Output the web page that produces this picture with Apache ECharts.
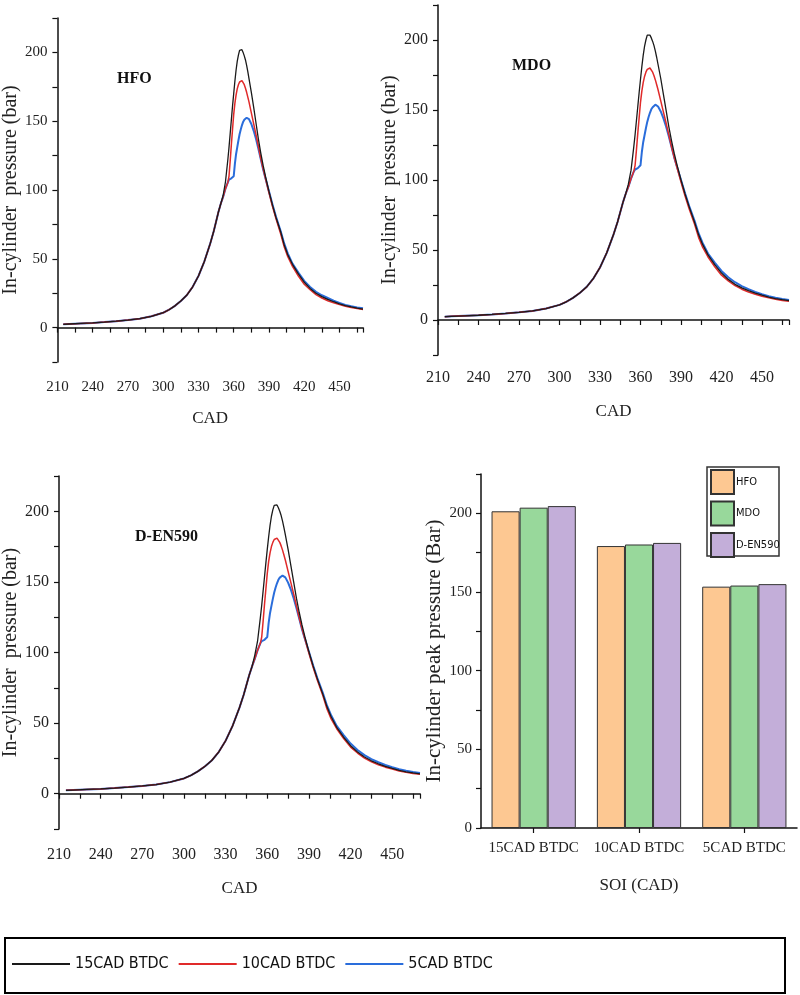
<!DOCTYPE html>
<html>
<head>
<meta charset="utf-8">
<script src="https://cdn.jsdelivr.net/npm/echarts@6/dist/echarts.min.js"></script>
<style>html,body{margin:0;padding:0;background:#fff}#c{width:800px;height:995px}</style>
</head>
<body>
<div id="c"></div>
<script>
// ---- Data ----
// Shared compression stroke (before injection effects), CAD / pressure (bar)
var cadRise = [215,220,230,240,250,260,270,280,290,300,305,310,315,320,325,330,335,340,343,345,347,349];
var pRise   = [2.4,2.6,3.0,3.4,4.0,4.7,5.5,6.5,8.2,10.8,13,15.8,19.3,23.5,29.5,37.5,48,61,70,77,84,90];
// Combustion & expansion CAD grid
var cadHot = [351,353,355,356,357,358,359,360,361,362,363,364,365,366,367,368,369,370,371,372,373,375,377,379,381,383,385,387,390,393,396,400,403,406,410,415,420,425,430,435,440,445,450,455,460,465,470];

// HFO
var hfo15 = [96,106,122,131,141,151,161,170,179,187,193.5,198,201.5,202.5,202,200,197.5,194.5,190.5,186,181,171,160,148.5,137,127,118,110,99,89,80,69.5,60,53,46,39,33,28.5,25,22.5,20.5,18.8,17.3,16,15,14.2,13.5];
var hfo10 = [95,101,105.5,110,121,133,144,155,163,169,173.5,176.5,178.5,179.5,179.5,178.5,176.5,174,171,167.5,164,156,148,140,131.5,123,115.5,108.5,98,88,79,68,58.5,51.5,44.5,37.5,31.5,27.5,24,21.5,19.5,18,16.7,15.5,14.6,13.8,13.2];
var hfo5  = [95,101,105.5,107.5,108,108.5,109,110,119,126,131,136,140.5,144,147,149.5,151,152,152.5,152.5,151.5,148,143,137,130,122.5,115,108.5,99,89.5,80.5,70,61,54,46.5,40,34,29.5,26,23.5,21.5,19.5,18,16.5,15.5,14.6,14];
// MDO
var mdo15 = [97,107,123.5,132.5,142.5,152.5,162.5,172,181,189,195.5,200,203.5,204,203.5,201.5,199,196,192,187.5,182.5,172.5,161,149.5,138,128,119,111,100,90,81,70,61,54,46.5,39.5,33.5,29,25.5,23,21,19.2,17.7,16.3,15.3,14.5,13.8];
var mdo10 = [95,101,106,110.5,121.5,133.5,144.5,155.5,163.5,169.5,174,177,179,180,180,179,177,174.5,171.5,168,164.5,156.5,148.5,140.5,132,123.5,116,109,98.5,88.5,79.5,68.5,59,52,45,38,32,28,24.5,22,20,18.4,17,15.8,14.8,14,13.4];
var mdo5  = [95,101,106,107.5,108,108.5,109,110.5,120,127,132,137,141.5,145,148,150.5,152,153.2,153.8,153.5,152.5,149,144,138,131,123.5,116,109.5,100,90.5,81.5,71,62,55,47.5,41,35,30.5,27,24.2,22,20,18.4,17,15.9,15,14.3];
// D-EN590
var den15 = [98,108,124.5,133.5,143.5,153.5,163.5,173,182,190,196.5,201,204.2,205,204.5,202.5,200,197,193,188.5,183.5,173,161.5,150,138.5,128.5,119.5,111.5,100.5,90.5,81.5,70.5,61.5,54.5,47,40,34,29.5,26,23.3,21.2,19.4,17.9,16.5,15.5,14.7,14];
var den10 = [95.5,101.5,106.5,111,122,134,145,156,164.5,170.5,175,178,180,181,181,180,178,175.5,172.5,169,165.5,157.5,149.5,141.5,133,124.5,117,110,99.5,89.5,80.5,69.5,60,53,46,39,33,28.8,25.2,22.6,20.5,18.8,17.4,16.1,15.1,14.3,13.7];
var den5  = [95.5,101.5,106.5,108,108.5,109,109.5,111,121,128,133,138,142.5,146,149,151.5,153,154,154.5,154.2,153.2,149.5,144.5,138.5,131.5,124,116.5,110,100.5,91,82,71.5,62.5,55.5,48,41.5,35.5,31,27.3,24.5,22.3,20.3,18.7,17.3,16.2,15.3,14.6];

// Peak pressure bar chart
var soiCats = ['15CAD BTDC','10CAD BTDC','5CAD BTDC'];
var peakHFO = [201.3,179.2,153.4];
var peakMDO = [203.6,180.2,154.1];
var peakDEN = [204.6,181.2,155.0];

var seriesNames = ['15CAD BTDC','10CAD BTDC','5CAD BTDC'];
var fuelNames = ['HFO','MDO','D-EN590'];
var yTicksShown = [0,50,100,150,200];
var xTicksShown = [210,240,270,300,330,360,390,420,450];

// ---- Build ----
function curve(hot){
  var d = cadRise.map(function(c,i){return [c,pRise[i]];});
  return d.concat(cadHot.map(function(c,i){return [c,hot[i]];}));
}
var serif = 'Liberation Serif, Times New Roman, serif';
var narrow = 'DejaVu Sans Condensed, Liberation Sans Narrow, Arial Narrow, sans-serif';
var lineColors = ['#1a1a1a','#e02a2a','#2a6ddb'];
var lineWidths = [1.3,1.5,2];

var grids = [
  {left:51, top:18, width:312, height:344},
  {left:438, top:5, width:351, height:350},
  {left:58, top:476, width:362, height:353},
  {left:481, top:474, width:316, height:354}
];
var yNameGap = [30,37,38,36];
var xNameGap = [48,48,51,49];
var xLblMargin = [18,15,18];
var lblSize = [15,16,16,15];

function axisCommon(){
  return {
    axisLine:{show:true,lineStyle:{color:'#111',width:1.5}},
    axisTick:{show:true,length:5,lineStyle:{color:'#111',width:1.2}},
    splitLine:{show:false}
  };
}
var xAxes = [], yAxes = [];
for (var g=0; g<3; g++){
  var xa = axisCommon();
  Object.assign(xa,{type:'value',gridIndex:g,min:210,max:470,interval:15,
    name:'CAD',nameLocation:'middle',nameGap:xNameGap[g],
    nameTextStyle:{fontFamily:serif,fontSize:17,color:'#222'},
    axisLabel:{margin:xLblMargin[g],fontFamily:serif,fontSize:lblSize[g],color:'#222',
      formatter:function(v){return xTicksShown.indexOf(v)>=0?String(v):'';}}});
  xAxes.push(xa);
  var ya = axisCommon();
  Object.assign(ya,{type:'value',gridIndex:g,min:-25,max:225,interval:25,
    name:'In-cylinder  pressure (bar)',nameLocation:'middle',nameGap:yNameGap[g],nameRotate:90,
    nameTextStyle:{fontFamily:serif,fontSize:20,color:'#222'},
    axisLabel:{margin:10,fontFamily:serif,fontSize:lblSize[g],color:'#222',
      formatter:function(v){return yTicksShown.indexOf(v)>=0?String(v):'';}}});
  yAxes.push(ya);
}
var xb = axisCommon();
Object.assign(xb,{type:'category',gridIndex:3,data:soiCats,
  axisTick:{show:true,alignWithLabel:true,length:5,lineStyle:{color:'#111',width:1.2}},
  name:'SOI (CAD)',nameLocation:'middle',nameGap:xNameGap[3],
  nameTextStyle:{fontFamily:serif,fontSize:17,color:'#222'},
  axisLabel:{interval:0,margin:13,fontFamily:serif,fontSize:15,color:'#222'}});
xAxes.push(xb);
var yb = axisCommon();
Object.assign(yb,{type:'value',gridIndex:3,min:0,max:225,interval:25,
  name:'In-cylinder peak pressure (Bar)',nameLocation:'middle',nameGap:yNameGap[3],nameRotate:90,
  nameTextStyle:{fontFamily:serif,fontSize:21,color:'#222'},
  axisLabel:{margin:9,fontFamily:serif,fontSize:15,color:'#222',
    formatter:function(v){return yTicksShown.indexOf(v)>=0?String(v):'';}}});
yAxes.push(yb);

var panels = [[hfo15,hfo10,hfo5],[mdo15,mdo10,mdo5],[den15,den10,den5]];
var series = [];
panels.forEach(function(p,gi){
  p.forEach(function(arr,si){
    series.push({type:'line',name:seriesNames[si],xAxisIndex:gi,yAxisIndex:gi,
      data:curve(arr),symbol:'none',showSymbol:false,z:3-si+2,
      lineStyle:{color:lineColors[si],width:lineWidths[si]},itemStyle:{color:lineColors[si]}});
  });
});
var barColors = ['#fdc892','#98d89b','#c3aed9'];
[peakHFO,peakMDO,peakDEN].forEach(function(arr,i){
  series.push({type:'bar',name:fuelNames[i],xAxisIndex:3,yAxisIndex:3,data:arr,
    barCategoryGap:'20%',barGap:'0%',
    itemStyle:{color:barColors[i],borderColor:'#333',borderWidth:1}});
});

var option = {
  animation:false,
  backgroundColor:'#fff',
  grid:grids,
  xAxis:xAxes,
  yAxis:yAxes,
  series:series,
  title:[
    {text:'HFO',left:117,top:71,textStyle:{fontFamily:serif,fontWeight:'bold',fontSize:16,color:'#111'},padding:0},
    {text:'MDO',left:512,top:58,textStyle:{fontFamily:serif,fontWeight:'bold',fontSize:16,color:'#111'},padding:0},
    {text:'D-EN590',left:135,top:529,textStyle:{fontFamily:serif,fontWeight:'bold',fontSize:16,color:'#111'},padding:0}
  ],
  legend:[
    {data:seriesNames,left:12,top:956,orient:'horizontal',icon:'rect',itemWidth:58,itemHeight:2,itemGap:10,
     padding:0,textStyle:{fontFamily:narrow,fontSize:16,color:'#111'},selectedMode:false},
    {data:fuelNames,left:710,top:469,orient:'vertical',icon:'rect',itemWidth:23,itemHeight:24,itemGap:5.5,
     padding:0,textStyle:{fontFamily:narrow,fontSize:11,color:'#111',padding:[0,0,0,-3]},selectedMode:false}
  ],
  graphic:[
    {type:'rect',shape:{x:707,y:467,width:72,height:89},style:{fill:'none',stroke:'#333',lineWidth:1.5},silent:true},
    {type:'rect',shape:{x:5,y:938,width:780,height:55},style:{fill:'none',stroke:'#000',lineWidth:2},silent:true}
  ]
};
var chart = echarts.init(document.getElementById('c'),null,{renderer:'canvas'});
chart.setOption(option);
</script>
</body>
</html>
